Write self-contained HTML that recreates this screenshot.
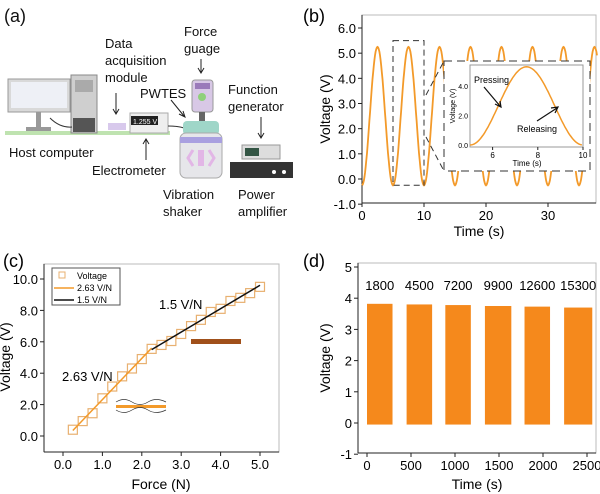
<!DOCTYPE html>
<html><head><meta charset="utf-8"><style>
body{margin:0;background:#fff}
svg{display:block;font-family:"Liberation Sans",Arial,sans-serif}
</style></head><body>
<svg id="fig" width="600" height="494" viewBox="0 0 600 494">
<g font-size="13" fill="#111">
<text x="4" y="22" font-size="18">(a)</text>
<rect x="5" y="131" width="165" height="4" fill="#bfe3b0"/>
<g>
<rect x="8" y="79" width="62" height="33" fill="#d9d9d9" stroke="#999"/>
<rect x="11" y="82" width="56" height="26" fill="#eef0f6"/>
<rect x="36" y="112" width="5" height="16" fill="#999"/><rect x="26" y="127" width="25" height="4" fill="#999"/>
<rect x="71" y="75" width="26" height="58" fill="#cfcfcf" stroke="#888"/>
<rect x="75" y="80" width="18" height="12" fill="#aaa"/>
<rect x="73" y="118" width="22" height="14" fill="#555"/>
</g>
<path d="M50 118 Q60 128 72 127" stroke="#333" fill="none"/>
<rect x="108" y="123" width="18" height="7" fill="#d8c9ec"/>
<g><rect x="130" y="113" width="38" height="20" fill="#eee" stroke="#aaa"/><rect x="131" y="116" width="27" height="9" fill="#222"/><text x="133" y="124" font-size="7" fill="#fff">1.255 V</text></g>
<path d="M168 126 Q178 126 184 128" stroke="#333" fill="none"/>
<g><rect x="192" y="80" width="21" height="32" rx="3" fill="#d8c8e6" stroke="#999"/><rect x="195" y="83" width="15" height="6" fill="#9a7aba"/><circle cx="202" cy="97" r="4" fill="#8fd07a"/><rect x="199" y="112" width="6" height="10" fill="#666"/></g>
<g><rect x="183" y="121" width="36" height="14" rx="4" fill="#9fd6c8"/><rect x="180" y="133" width="42" height="45" rx="6" fill="#e6e6ea" stroke="#aaa"/><rect x="180" y="137" width="42" height="6" fill="#a9a0e0"/><path d="M193 150 L188 158 L193 166 M209 150 L214 158 L209 166" stroke="#e2b6e6" stroke-width="3" fill="none"/><rect x="198" y="150" width="6" height="16" fill="#e2b6e6"/></g>
<g><rect x="242" y="145" width="38" height="14" fill="#ddd" stroke="#999"/><rect x="245" y="148" width="14" height="8" fill="#354"/></g>
<g><rect x="230" y="162" width="63" height="16" fill="#333"/><circle cx="274" cy="172" r="2" fill="#fff"/><circle cx="284" cy="172" r="2" fill="#fff"/></g>
<g stroke="#222" fill="none">
<path d="M116 93 V113 M113 109 L116 114 L119 109"/>
<path d="M201 59 V72 M198 68 L201 73 L204 68"/>
<path d="M261 117 V137 M258 133 L261 138 L264 133"/>
<path d="M146 160 V140 M143 144 L146 139 L149 144"/>
<path d="M171 100 L184 116 M179 114 L185 117 L183 111"/>
</g>
<text x="105" y="48">Data</text>
<text x="105" y="65">acquisition</text>
<text x="105" y="82">module</text>
<text x="184" y="36">Force</text>
<text x="184" y="53">guage</text>
<text x="140" y="98">PWTES</text>
<text x="228" y="94">Function</text>
<text x="228" y="111">generator</text>
<text x="9" y="157">Host computer</text>
<text x="92" y="175">Electrometer</text>
<text x="163" y="199">Vibration</text>
<text x="163" y="216">shaker</text>
<text x="238" y="199">Power</text>
<text x="238" y="216">amplifier</text>
</g>
<text x="303" y="22" font-size="18">(b)</text>
<text x="3" y="267" font-size="18">(c)</text>
<text x="303" y="267" font-size="18">(d)</text>
<g id="gb"></g>
<g id="gc"></g>
<g id="gd"></g>
</svg>
<script>
const bTicksY=[-1,0,1,2,3,4,5,6];
const bTicksX=[0,10,20,30];
const bPeriod=5, bMax=5.25, bMin=-0.25;
const insetTicksX=[6,8,10];
const insetTicksY=[0,2,4];
const insetMax=5.3;
const cForce=[0.25,0.5,0.75,1,1.25,1.5,1.75,2,2.25,2.5,2.75,3,3.25,3.5,3.75,4,4.25,4.5,4.75,5];
const cVolt=[0.4,0.95,1.45,2.4,3.15,3.8,4.3,4.9,5.55,5.8,6.05,6.5,7.0,7.4,7.9,8.1,8.6,8.8,9.1,9.5];
const cFit1=[[0.25,0.35],[2.25,5.6]];
const cFit2=[[2.25,5.5],[5.0,9.6]];
const cTicksX=[0,1,2,3,4,5];
const cTicksY=[0,2,4,6,8,10];
const dStart=[0,450,890,1340,1790,2240];
const dEnd=[290,740,1180,1640,2080,2560];
const dHeight=[3.82,3.80,3.78,3.75,3.73,3.70];
const dCycles=["1800","4500","7200","9900","12600","15300"];
const dTicksX=[0,500,1000,1500,2000,2500];
const dTicksY=[-1,0,1,2,3,4,5];
const OR="#f39a2a";
const NS="http://www.w3.org/2000/svg";
function mk(p,tag,at,txt){const e=document.createElementNS(NS,tag);for(const k in at)e.setAttribute(k,at[k]);if(txt!==undefined)e.textContent=txt;p.appendChild(e);return e;}
function lin(d0,d1,r0,r1){return v=>r0+(v-d0)*(r1-r0)/(d1-d0);}
function frame(g,x0,y0,x1,y1){const r=mk(g,'rect',{x:x0,y:y0,width:x1-x0,height:y1-y0,fill:'none',stroke:'#bbb'});


mk(g,'line',{x1:x0,y1:y0,x2:x0,y2:y1,stroke:'#222'});mk(g,'line',{x1:x0,y1:y1,x2:x1,y2:y1,stroke:'#222'});}
function axes(g,x,y,x0,y0,x1,y1,tx,ty,fx,fy,fs){
 tx.forEach(v=>{mk(g,'line',{x1:x(v),y1:y1,x2:x(v),y2:y1+4,stroke:'#222'});const t=mk(g,'text',{x:x(v),y:y1+17,'text-anchor':'middle','font-size':fs},fx(v));
 
 });
 ty.forEach(v=>{mk(g,'line',{x1:x0-4,y1:y(v),x2:x0,y2:y(v),stroke:'#222'});const t=mk(g,'text',{x:x0-6,y:y(v)+5,'text-anchor':'end','font-size':fs},fy(v));
 
 });
}
(function(){const g=document.getElementById('gb');
const X0=362,X1=596,Y0=15,Y1=203;
const x=lin(0,10,362,424),y=lin(0,6,179,28);
frame(g,X0,Y0,X1,Y1);axes(g,x,y,X0,Y0,X1,Y1,bTicksX,bTicksY,v=>v,v=>v.toFixed(1),13);
let d='';for(let t=0;t<=38;t+=0.1){const v=(bMax+bMin)/2-(bMax-bMin)/2*Math.cos(2*Math.PI*t/bPeriod);d+=(d?'L':'M')+x(t).toFixed(1)+' '+y(v).toFixed(1);}
const p=mk(g,'path',{d:d,stroke:OR,'stroke-width':1.8,fill:'none'});


const r1=mk(g,'rect',{x:x(5),y:y(5.5),width:x(10)-x(5),height:y(-0.25)-y(5.5),fill:'none',stroke:'#333','stroke-dasharray':'6 4'});


mk(g,'path',{d:'M426 95 L444 61 M426 137 L444 171',stroke:'#333','stroke-dasharray':'6 4'});
const r2=mk(g,'rect',{x:444,y:61,width:146,height:110,fill:'#fff',stroke:'#333','stroke-dasharray':'8 5'});


const ix=lin(5,10,470,583),iy=lin(0,4,145,86);
mk(g,'rect',{x:470,y:65,width:113,height:82,fill:'none',stroke:'#999'});
insetTicksX.forEach(v=>{mk(g,'line',{x1:ix(v),y1:147,x2:ix(v),y2:150,stroke:'#222'});const t=mk(g,'text',{x:ix(v),y:158,'text-anchor':'middle','font-size':8},v);

});
insetTicksY.forEach(v=>{const t=mk(g,'text',{x:468,y:iy(v)+3,'text-anchor':'end','font-size':7},v.toFixed(1));

});
mk(g,'text',{x:527,y:166,'text-anchor':'middle','font-size':8},'Time (s)');
mk(g,'text',{x:455,y:106,'text-anchor':'middle','font-size':7,transform:'rotate(-90 455 106)'},'Voltage (V)');
let d2='';for(let t=5;t<=10;t+=0.05){const v=insetMax/2-insetMax/2*Math.cos(2*Math.PI*(t-5)/bPeriod);d2+=(d2?'L':'M')+ix(t).toFixed(1)+' '+iy(v).toFixed(1);}
const p2=mk(g,'path',{d:d2,stroke:OR,'stroke-width':1.5,fill:'none'});


mk(g,'text',{x:474,y:83,'font-size':9},'Pressing');
mk(g,'text',{x:517,y:132,'font-size':9},'Releasing');
mk(g,'path',{d:'M484 87 L500 106 M495 104 L501 107 L500 101 M537 121 L557 108 M551 108 L558 107 L555 113',stroke:'#111','stroke-width':1.2,fill:'none'});
const yt=mk(g,'text',{x:330,y:109,'text-anchor':'middle','font-size':14,transform:'rotate(-90 330 109)'},'Voltage (V)');


const xt=mk(g,'text',{x:479,y:236,'text-anchor':'middle','font-size':14},'Time (s)');


})();
(function(){const g=document.getElementById('gc');
const X0=44,X1=279,Y0=264,Y1=452;
const x=lin(0,5,63,260),y=lin(0,10,436,279);
frame(g,X0,Y0,X1,Y1);axes(g,x,y,X0,Y0,X1,Y1,cTicksX,cTicksY,v=>v.toFixed(1),v=>v.toFixed(1),13);
cForce.forEach((f,i)=>{const s=mk(g,'rect',{x:x(f)-4.5,y:y(cVolt[i])-4.5,width:9,height:9,fill:'none',stroke:'#e8b070','stroke-width':1.2});

});
const l1=mk(g,'line',{x1:x(cFit1[0][0]),y1:y(cFit1[0][1]),x2:x(cFit1[1][0]),y2:y(cFit1[1][1]),stroke:OR,'stroke-width':1.5});


const l2=mk(g,'line',{x1:x(cFit2[0][0]),y1:y(cFit2[0][1]),x2:x(cFit2[1][0]),y2:y(cFit2[1][1]),stroke:'#111','stroke-width':1.5});


const lg=mk(g,'g',{});


mk(lg,'rect',{x:52,y:268,width:68,height:37,fill:'#fff',stroke:'#555'});
mk(lg,'rect',{x:59,y:272,width:6,height:6,fill:'none',stroke:'#e8b070'});
mk(lg,'text',{x:77,y:279,'font-size':9},'Voltage');
mk(lg,'line',{x1:54,y1:288,x2:74,y2:288,stroke:OR,'stroke-width':1.5});
mk(lg,'text',{x:77,y:291,'font-size':9},'2.63 V/N');
mk(lg,'line',{x1:54,y1:300,x2:74,y2:300,stroke:'#111','stroke-width':1.5});
mk(lg,'text',{x:77,y:303,'font-size':9},'1.5 V/N');
mk(g,'text',{x:159,y:309,'font-size':13},'1.5 V/N');
mk(g,'text',{x:62,y:381,'font-size':13},'2.63 V/N');
mk(g,'rect',{x:191,y:339,width:50,height:5,fill:'#a0501a'});
mk(g,'rect',{x:116,y:405,width:50,height:3,fill:OR});
mk(g,'path',{d:'M116 402 Q124 397 132 402 T148 402 T166 402 M116 410 Q124 415 132 410 T148 410 T166 410',stroke:'#333','stroke-width':0.7,fill:'none'});
const yt=mk(g,'text',{x:10,y:357,'text-anchor':'middle','font-size':14,transform:'rotate(-90 10 357)'},'Voltage (V)');


const xt=mk(g,'text',{x:161,y:489,'text-anchor':'middle','font-size':14},'Force (N)');


})();
(function(){const g=document.getElementById('gd');
const X0=358,X1=596,Y0=263,Y1=453;
const x=lin(0,2500,367,587),y=lin(0,5,423,267);
frame(g,X0,Y0,X1,Y1);axes(g,x,y,X0,Y0,X1,Y1,dTicksX,dTicksY,v=>v,v=>v,13);
dStart.forEach((s,i)=>{const r=mk(g,'rect',{x:x(s),y:y(dHeight[i]),width:x(dEnd[i])-x(s),height:y(-0.05)-y(dHeight[i]),fill:'#f5891c'});


const t=mk(g,'text',{x:(x(s)+x(dEnd[i]))/2,y:290,'text-anchor':'middle','font-size':13},dCycles[i]);

});
const yt=mk(g,'text',{x:330,y:358,'text-anchor':'middle','font-size':14,transform:'rotate(-90 330 358)'},'Voltage (V)');


const xt=mk(g,'text',{x:477,y:489,'text-anchor':'middle','font-size':14},'Time (s)');


})();
</script>
</body></html>
